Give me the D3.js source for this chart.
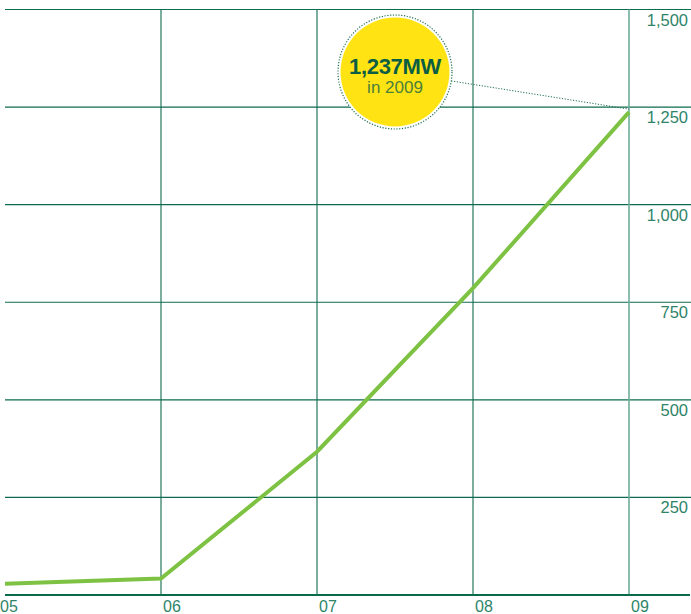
<!DOCTYPE html>
<html><head><meta charset="utf-8">
<script src="https://cdn.jsdelivr.net/npm/d3@7"></script>
<style>
html,body{margin:0;padding:0;background:#fff;overflow:hidden}
svg{display:block;font-family:"Liberation Sans",Arial,Helvetica,sans-serif}
</style></head>
<body>
<svg id="c" width="691" height="614"></svg>
<script>
const years = ["05","06","07","08","09"];
const capacity = [29, 42, 367, 786, 1237];
const yTicks = [250, 500, 750, 1000, 1250, 1500];
const yTickLabels = ["250","500","750","1,000","1,250","1,500"];
const calloutValue = "1,237MW";
const calloutSub = "in 2009";

const W = 691, H = 614;
const svg = d3.select("#c");
const x = d3.scalePoint().domain(years).range([5, 629]);
const y = d3.scaleLinear().domain([0, 1500]).range([595, 9.5]);

const grid = "#0d6b4f";
const labelCol = "#2f8468";

// horizontal gridlines
svg.append("g").selectAll("line").data(yTicks).join("line")
  .attr("x1", 5).attr("x2", 691)
  .attr("y1", d => y(d)).attr("y2", d => y(d))
  .attr("stroke", grid).attr("stroke-width", 1.2);

// vertical gridlines (skip first year)
svg.append("g").selectAll("line").data(years.slice(1)).join("line")
  .attr("x1", d => x(d)).attr("x2", d => x(d))
  .attr("y1", y(1500)).attr("y2", y(0))
  .attr("stroke", (d, i) => i === years.length - 2 ? "#6fae9c" : grid)
  .attr("stroke-width", (d, i) => i === years.length - 2 ? 1.6 : 1.1);

// y labels
svg.append("g").selectAll("text").data(yTicks).join("text")
  .attr("x", 688).attr("y", d => y(d) + 16)
  .attr("text-anchor", "end")
  .attr("font-size", 16.5).attr("fill", labelCol)
  .text((d, i) => yTickLabels[i]);

// x axis baseline
svg.append("line").attr("x1", 5).attr("x2", 690)
  .attr("y1", y(0)).attr("y2", y(0))
  .attr("stroke", "#0a6a4c").attr("stroke-width", 2.2);

// x labels
svg.append("g").selectAll("text").data(years).join("text")
  .attr("x", d => x(d) - (d === "05" ? 5 : -2)).attr("y", 612)
  .attr("font-size", 16).attr("fill", labelCol)
  .text(d => d);

// line
const data = years.map((d, i) => ({year: d, v: capacity[i]}));
svg.append("path").datum(data)
  .attr("fill", "none").attr("stroke", "#7dc242").attr("stroke-width", 4)
  .attr("stroke-linejoin", "miter")
  .attr("d", d3.line().x(d => x(d.year)).y(d => y(d.v)));

// callout
const cx = 395, cy = 72, r = 57;
const last = data[data.length - 1];
const px = x(last.year), py = y(last.v) - 3;
const ang = Math.atan2(py - cy, px - cx);
svg.append("line")
  .attr("x1", cx + r * Math.cos(ang)).attr("y1", cy + r * Math.sin(ang))
  .attr("x2", px).attr("y2", py)
  .attr("stroke", "#1f6e55").attr("stroke-width", 1).attr("stroke-dasharray", "1.2,1.6");
svg.append("circle").attr("cx", cx).attr("cy", cy).attr("r", r)
  .attr("fill", "#fff").attr("stroke", "#1f6e55").attr("stroke-width", 1.2)
  .attr("stroke-dasharray", "1.2,1.6");
svg.append("circle").attr("cx", cx).attr("cy", cy).attr("r", r - 2.5)
  .attr("fill", "#ffe312");
svg.append("text").attr("x", cx).attr("y", 74).attr("text-anchor", "middle")
  .attr("font-size", 22).attr("font-weight", "bold").attr("fill", "#0b5e44")
  .attr("letter-spacing", -0.3)
  .text(calloutValue);
svg.append("text").attr("x", cx).attr("y", 93).attr("text-anchor", "middle")
  .attr("font-size", 17).attr("fill", "#4b7f3a")
  .text(calloutSub);
</script>
</body></html>
